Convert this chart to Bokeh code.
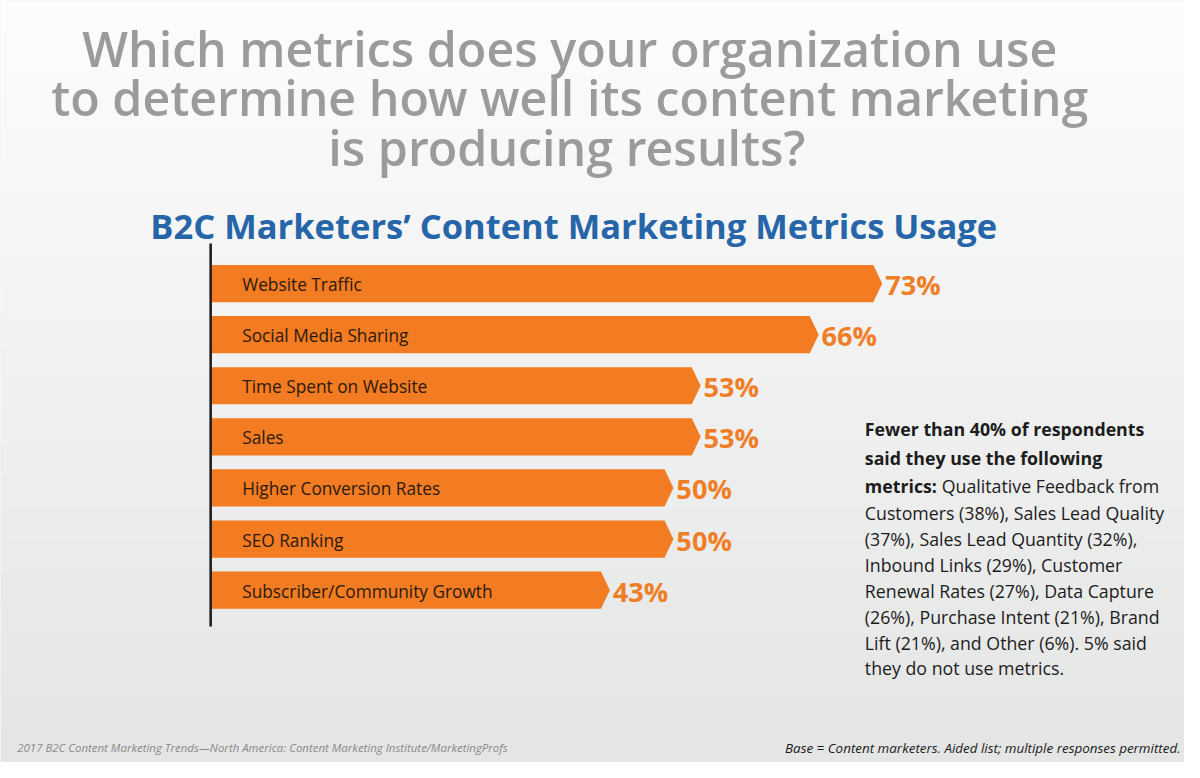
import numpy as np
from bokeh.plotting import figure
from bokeh.models import Range1d
from bokeh.core.properties import value
from bokeh.embed import file_html
from bokeh.resources import INLINE

# ---------------- data ----------------
categories = [
    "Website Traffic",
    "Social Media Sharing",
    "Time Spent on Website",
    "Sales",
    "Higher Conversion Rates",
    "SEO Ranking",
    "Subscriber/Community Growth",
]
values = [73, 66, 53, 53, 50, 50, 43]
value_labels = [f"{v}%" for v in values]

title_lines = [
    "Which metrics does your organization use",
    "to determine how well its content marketing",
    "is producing results?",
]
subtitle = "B2C Marketers\u2019 Content Marketing Metrics Usage"
note_bold_lines = ["Fewer than 40% of respondents", "said they use the following", "metrics:"]
note_lines = [
    "Qualitative Feedback from",
    "Customers (38%), Sales Lead Quality",
    "(37%), Sales Lead Quantity (32%),",
    "Inbound Links (29%), Customer",
    "Renewal Rates (27%), Data Capture",
    "(26%), Purchase Intent (21%), Brand",
    "Lift (21%), and Other (6%). 5% said",
    "they do not use metrics.",
]
source_text = "2017 B2C Content Marketing Trends\u2014North America: Content Marketing Institute/MarketingProfs"
base_text = "Base = Content marketers. Aided list; multiple responses permitted."

# ---------------- layout (design pixels of a 1200x778 artboard) ----------------
W, H = 1184, 762
AW, AH = 1200, 778
S = W / AW                # design -> screen scale
PX_PER_PCT = 9.2          # horizontal scale (design px per %)
X0 = 213                  # design x of 0 %
ROW = 52.17               # row pitch
Y0 = 289                  # design y of first row centre
BAR_H = 38
TIP = 9

def dx(px):
    return (px - X0) / PX_PER_PCT

def dy(py):
    return (Y0 - py) / ROW

def fs(px):
    return f"{px * S:.2f}px"

ORANGE = "#f37b21"
PCT_ORANGE = "#f07e26"
TITLE_GRAY = "#9a9b9d"
BLUE = "#2565a8"
TITLE_FONT = "'Open Sans Medium', 'Open Sans SemiBold', 'Open Sans'"

p = figure(width=W, height=H, output_backend="svg", toolbar_location=None,
           x_axis_location=None, y_axis_location=None, title=None,
           x_range=Range1d(dx(0), dx(AW)), y_range=Range1d(dy(AH), dy(0)),
           min_border=0, outline_line_color=None)
p.grid.visible = False
p.background_fill_color = "#eeeeee"
p.border_fill_color = "#eeeeee"

# background vertical gradient
N = 256
t = np.linspace(0, 1, N)[:, None]  # 0 bottom -> 1 top
top_c = np.array([253, 253, 253])
bot_c = np.array([228, 229, 229])
rgb = (bot_c + (top_c - bot_c) * t).astype(np.uint8)
img = np.empty((N, 1), dtype=np.uint32)
view = img.view(dtype=np.uint8).reshape((N, 1, 4))
view[:, 0, 0] = rgb[:, 0]
view[:, 0, 1] = rgb[:, 1]
view[:, 0, 2] = rgb[:, 2]
view[:, 0, 3] = 255
p.image_rgba(image=[img], x=dx(0), y=dy(AH), dw=dx(AW) - dx(0), dh=dy(0) - dy(AH))

# bars with arrow tip
n = len(categories)
ys = [-i for i in range(n)]
h = BAR_H / 2 / ROW
tip = TIP / PX_PER_PCT
bx, by = [], []
for v, y in zip(values, ys):
    bx.append([0, v, v + tip, v, 0])
    by.append([y + h, y + h, y, y - h, y - h])
p.patches(bx, by, fill_color=ORANGE, line_color=None)

# axis line
p.segment(x0=[0], y0=[41 / ROW], x1=[0], y1=[-(n - 1) - 37 / ROW],
          line_color="#231f20", line_width=2.6)

# category labels inside bars
p.text(x=[0] * n, y=ys, text=categories, x_offset=32 * S, y_offset=1,
       text_font=value("Open Sans"), text_font_size=fs(17.5),
       text_color="#2a1a10", text_baseline="middle", text_align="left")

# value labels
p.text(x=values, y=ys, text=value_labels, x_offset=12 * S, y_offset=1,
       text_font=value("Open Sans"), text_font_style="bold", text_font_size=fs(27.5),
       text_color=PCT_ORANGE, text_baseline="middle", text_align="left")

# titles
title_base = [48, 99, 150]
title_cx = [577, 577, 574]
p.text(x=[dx(c) for c in title_cx], y=[dy(b) for b in title_base], text=title_lines,
       text_font=value(TITLE_FONT), text_font_size=fs(49),
       text_color=TITLE_GRAY, text_baseline="alphabetic", text_align="center")
p.text(x=[dx(581)], y=[dy(230)], text=[subtitle],
       text_font=value("Open Sans"), text_font_style="bold", text_font_size=fs(35),
       text_color=BLUE, text_baseline="alphabetic", text_align="center")

# side note
bold_base = [438, 467, 496]
p.text(x=[dx(876)] * 3, y=[dy(b) for b in bold_base], text=note_bold_lines,
       text_font=value("Open Sans"), text_font_style="bold", text_font_size=fs(18),
       text_color="#1c1c1c", text_baseline="alphabetic", text_align="left")
note_base = [496, 523, 549.5, 576, 603, 629.5, 656, 682]
note_x = [954] + [876] * (len(note_lines) - 1)
p.text(x=[dx(v) for v in note_x], y=[dy(b) for b in note_base], text=note_lines,
       text_font=value("Open Sans"), text_font_size=fs(18),
       text_color="#1c1c1c", text_baseline="alphabetic", text_align="left")

# footers
p.text(x=[dx(17)], y=[dy(763)], text=[source_text],
       text_font=value("Open Sans"), text_font_style="italic", text_font_size=fs(11.6),
       text_color="#8a8a8a", text_baseline="middle", text_align="left")
p.text(x=[dx(1196)], y=[dy(763)], text=[base_text],
       text_font=value("Open Sans"), text_font_style="italic", text_font_size=fs(13.6),
       text_color="#1a1a1a", text_baseline="middle", text_align="right")

open("out.html", "w").write(file_html(p, INLINE))
